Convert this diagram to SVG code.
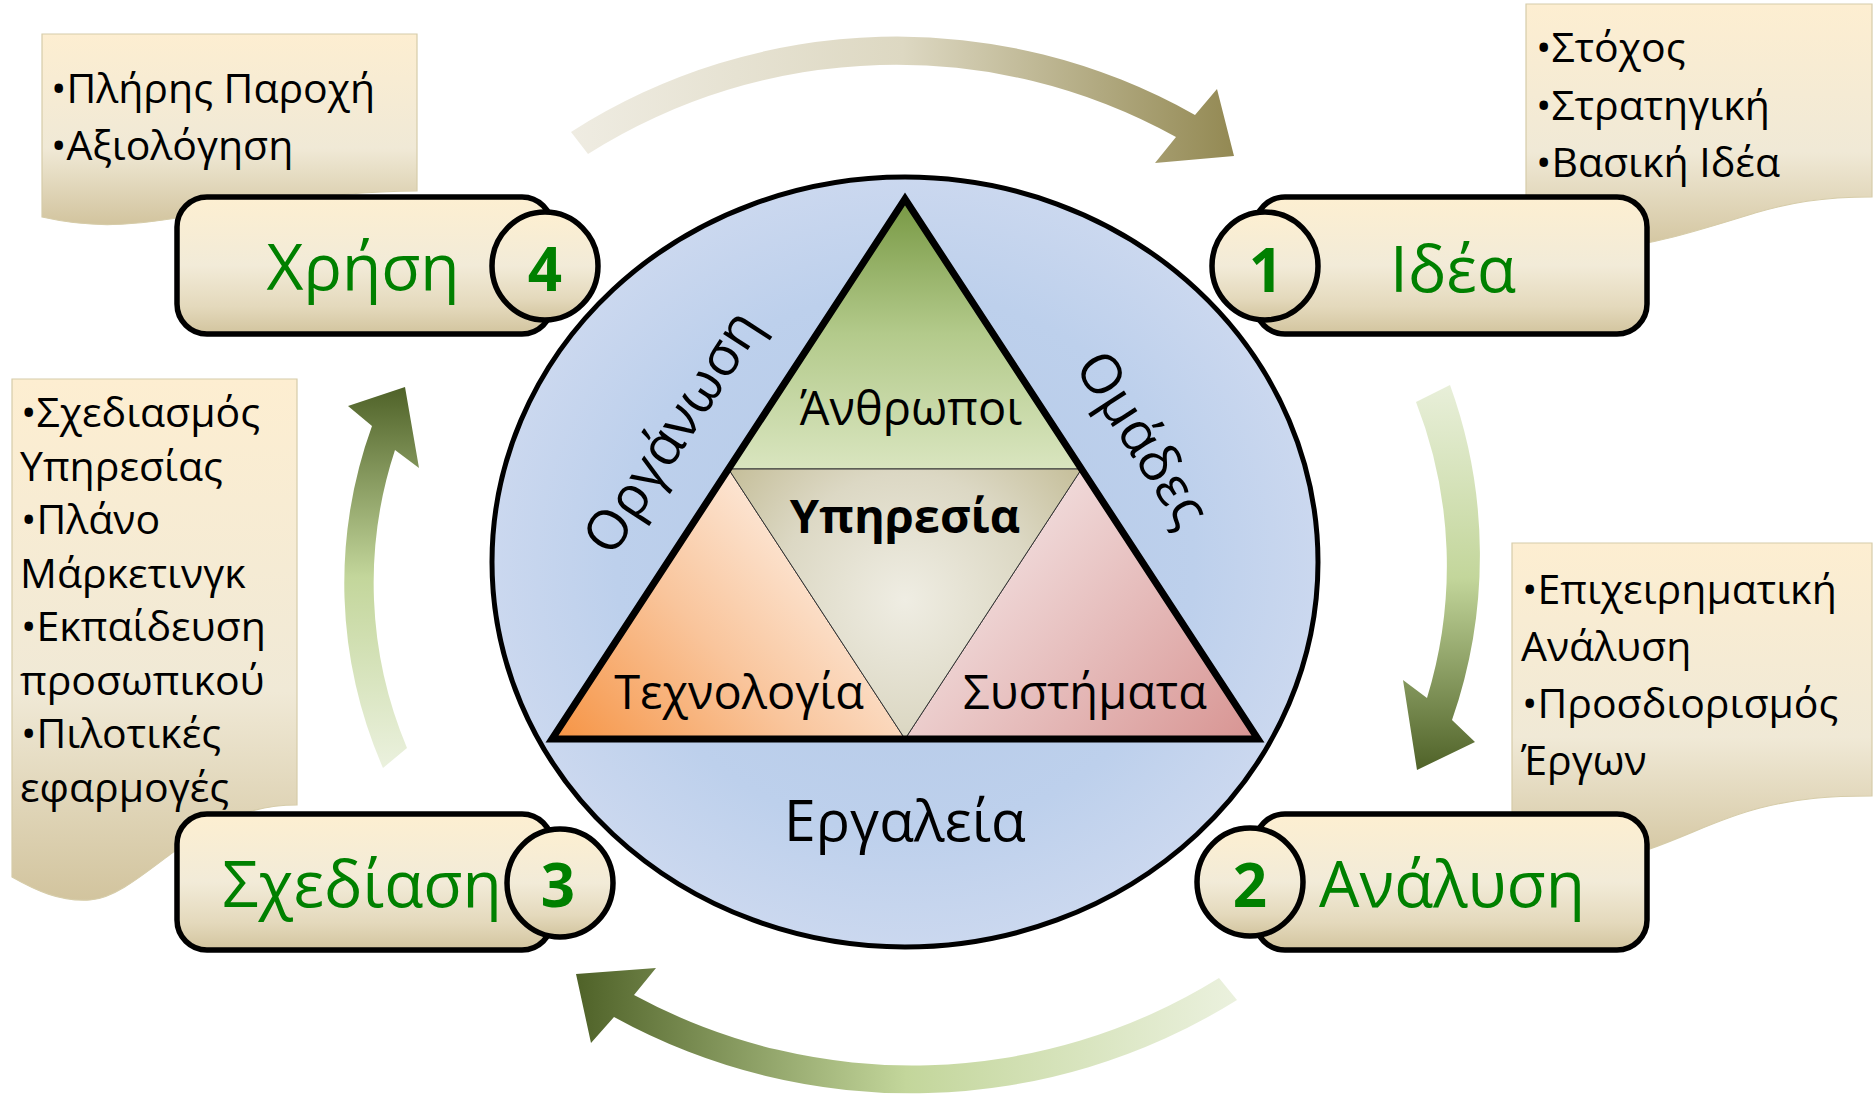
<svg xmlns="http://www.w3.org/2000/svg" width="1874" height="1096" viewBox="0 0 1874 1096">
<style>
text{font-family:"Open Sans","Noto Sans","DejaVu Sans",sans-serif;}
.note{font-size:41px;fill:#000;}
.lbl{font-size:64px;fill:#008000;text-anchor:middle;}
.num{font-size:60px;font-weight:bold;fill:#008000;text-anchor:middle;}
.tri{font-size:47px;fill:#000;text-anchor:middle;}
.big{font-size:57px;fill:#000;text-anchor:middle;}
.bold{font-weight:bold;}
.side{font-size:55px;fill:#000;text-anchor:middle;}
.box{fill:url(#boxGrad);stroke:#000;stroke-width:5.5;}
.notebg{fill:url(#noteGrad);stroke:#d6cca9;stroke-width:1.2;}
</style>
<defs>
<linearGradient id="boxGrad" x1="0" y1="0" x2="0" y2="1">
<stop offset="0" stop-color="#fdefd1"/><stop offset="0.5" stop-color="#f2ebd8"/><stop offset="0.8" stop-color="#e4d9bc"/><stop offset="1" stop-color="#d2c49e"/>
</linearGradient>
<linearGradient id="noteGrad" x1="0" y1="0" x2="0" y2="1">
<stop offset="0" stop-color="#fdeed1"/><stop offset="0.6" stop-color="#f0e9d6"/><stop offset="1" stop-color="#d2c49e"/>
</linearGradient>
<linearGradient id="topArr" x1="0" y1="0" x2="1" y2="0">
<stop offset="0" stop-color="#efece2"/><stop offset="0.5" stop-color="#ddd8c2"/><stop offset="1" stop-color="#938953"/>
</linearGradient>
<linearGradient id="rightArr" x1="0" y1="0" x2="0" y2="1">
<stop offset="0" stop-color="#e8efd9"/><stop offset="0.5" stop-color="#c3d69b"/><stop offset="1" stop-color="#4f6228"/>
</linearGradient>
<linearGradient id="bottomArr" x1="0" y1="0" x2="1" y2="0">
<stop offset="0" stop-color="#4f6228"/><stop offset="0.5" stop-color="#c3d69b"/><stop offset="1" stop-color="#ebf1de"/>
</linearGradient>
<linearGradient id="leftArr" x1="0" y1="0" x2="0" y2="1">
<stop offset="0" stop-color="#4f6228"/><stop offset="0.5" stop-color="#c3d69b"/><stop offset="1" stop-color="#ebf1de"/>
</linearGradient>
<radialGradient id="circGrad" cx="0.5" cy="0.5" r="0.5">
<stop offset="0" stop-color="#b4c9e7"/><stop offset="0.7" stop-color="#bdd0ec"/><stop offset="1" stop-color="#cbd8ef"/>
</radialGradient>
<linearGradient id="greenGrad" gradientUnits="userSpaceOnUse" x1="0" y1="199" x2="0" y2="469">
<stop offset="0" stop-color="#779843"/><stop offset="0.5" stop-color="#b3ca8b"/><stop offset="1" stop-color="#d9e5bf"/>
</linearGradient>
<linearGradient id="orangeGrad" gradientUnits="userSpaceOnUse" x1="560" y1="740" x2="820" y2="500">
<stop offset="0" stop-color="#f69546"/><stop offset="0.5" stop-color="#f9c59c"/><stop offset="1" stop-color="#fdefe4"/>
</linearGradient>
<linearGradient id="pinkGrad" gradientUnits="userSpaceOnUse" x1="990" y1="500" x2="1250" y2="740">
<stop offset="0" stop-color="#f3e2e2"/><stop offset="1" stop-color="#d89593"/>
</linearGradient>
<radialGradient id="centerGrad" gradientUnits="userSpaceOnUse" cx="905" cy="600" r="230">
<stop offset="0" stop-color="#efede3"/><stop offset="0.55" stop-color="#dcd8c4"/><stop offset="1" stop-color="#c2bb94"/>
</radialGradient>
</defs>

<rect width="1874" height="1096" fill="#fff"/>

<g id="connectors">
<path id="arrow-top" d="M571,132 A605,605 0 0 1 1195,115 L1217,89 L1234,156 L1155,163 L1176,137 A577,577 0 0 0 588,154 Z" fill="url(#topArr)"/>
<path id="arrow-right" d="M1450,385 A500,500 0 0 1 1452,720 L1475,742 L1417,770 L1403,680 L1427,698 A450,450 0 0 0 1416,402 Z" fill="url(#rightArr)"/>
<path id="arrow-bottom" d="M1237,1000 A616,616 0 0 1 614,1017 L591,1043 L576,974 L656,968 L634,995 A583,583 0 0 0 1219,978 Z" fill="url(#bottomArr)"/>
<path id="arrow-left" d="M383,768 A460,460 0 0 1 372,426 L348,406 L405,387 L419,468 L395,450 A425,425 0 0 0 407,748 Z" fill="url(#leftArr)"/>
</g>

<g id="center">
<ellipse cx="905" cy="562" rx="413" ry="385" fill="url(#circGrad)" stroke="#000" stroke-width="5"/>
<polygon points="905,199 728.5,469 1081.5,469" fill="url(#greenGrad)" stroke="#333" stroke-width="1"/>
<polygon points="728.5,469 552,739 905,739" fill="url(#orangeGrad)" stroke="#333" stroke-width="1"/>
<polygon points="1081.5,469 905,739 1258,739" fill="url(#pinkGrad)" stroke="#333" stroke-width="1"/>
<polygon points="728.5,469 1081.5,469 905,739" fill="url(#centerGrad)" stroke="#333" stroke-width="1"/>
<polygon points="905,199 552,739 1258,739" fill="none" stroke="#000" stroke-width="7" stroke-linejoin="miter"/>
<text class="tri" x="911" y="425">Άνθρωποι</text>
<text class="tri bold" x="905" y="533">Υπηρεσία</text>
<text class="tri" x="739" y="709">Τεχνολογία</text>
<text class="tri" x="1085" y="709">Συστήματα</text>
<text class="big" x="905" y="841">Εργαλεία</text>
<text class="side" transform="translate(688,442) rotate(-57)">Οργάνωση</text>
<text class="side" transform="translate(1127,449) rotate(57)">Ομάδες</text>
</g>

<g id="note-use">
<path class="notebg" d="M42,34 H417 V191 C350,191 280,200 200,214 C130,227 90,228 42,217 Z"/>
<text class="note" x="51" y="103">•Πλήρης Παροχή</text>
<text class="note" x="51" y="160">•Αξιολόγηση</text>
</g>
<g id="note-idea">
<path class="notebg" d="M1526,4 H1872 V197 C1820,197 1790,203 1755,213 C1700,230 1650,246 1600,250 C1570,252 1545,250 1526,248 Z"/>
<text class="note" x="1536" y="62">•Στόχος</text>
<text class="note" x="1536" y="120">•Στρατηγική</text>
<text class="note" x="1536" y="177">•Βασική Ιδέα</text>
</g>
<g id="note-design">
<path class="notebg" d="M12,379 H297 V805 C260,805 225,815 176,850 C140,877 115,898 90,900 C60,902 35,890 12,877 Z"/>
<text class="note" x="21" y="427">•Σχεδιασμός</text>
<text class="note" x="20" y="480.5">Υπηρεσίας</text>
<text class="note" x="21" y="534">•Πλάνο</text>
<text class="note" x="20" y="587.5">Μάρκετινγκ</text>
<text class="note" x="21" y="641">•Εκπαίδευση</text>
<text class="note" x="20" y="694.5">προσωπικού</text>
<text class="note" x="21" y="748">•Πιλοτικές</text>
<text class="note" x="20" y="801.5">εφαρμογές</text>
</g>
<g id="note-analysis">
<path class="notebg" d="M1512,543 H1872 V796 C1830,796 1800,798 1760,808 C1720,818 1690,835 1647,850 C1600,866 1550,870 1512,866 Z"/>
<text class="note" x="1522" y="604">•Επιχειρηματική</text>
<text class="note" x="1521" y="661">Ανάλυση</text>
<text class="note" x="1522" y="718">•Προσδιορισμός</text>
<text class="note" x="1521" y="775">Έργων</text>
</g>

<g id="node-4">
<rect class="box" x="177" y="197" width="375" height="137" rx="30"/>
<ellipse class="box" cx="545" cy="266" rx="53" ry="54"/>
<text class="lbl" x="363" y="290">Χρήση</text>
<text class="num" x="545" y="291">4</text>
</g>
<g id="node-1">
<rect class="box" x="1255" y="197" width="392" height="137" rx="30"/>
<ellipse class="box" cx="1265" cy="266" rx="53" ry="54"/>
<text class="lbl" x="1453" y="292">Ιδέα</text>
<text class="num" x="1266" y="292">1</text>
</g>
<g id="node-3">
<rect class="box" x="177" y="814" width="375" height="136" rx="30"/>
<ellipse class="box" cx="560" cy="883" rx="53" ry="54"/>
<text class="lbl" x="362" y="907">Σχεδίαση</text>
<text class="num" x="558" y="907">3</text>
</g>
<g id="node-2">
<rect class="box" x="1255" y="814" width="392" height="136" rx="30"/>
<ellipse class="box" cx="1250" cy="882" rx="53" ry="54"/>
<text class="lbl" x="1452" y="907">Ανάλυση</text>
<text class="num" x="1250" y="907">2</text>
</g>
</svg>
